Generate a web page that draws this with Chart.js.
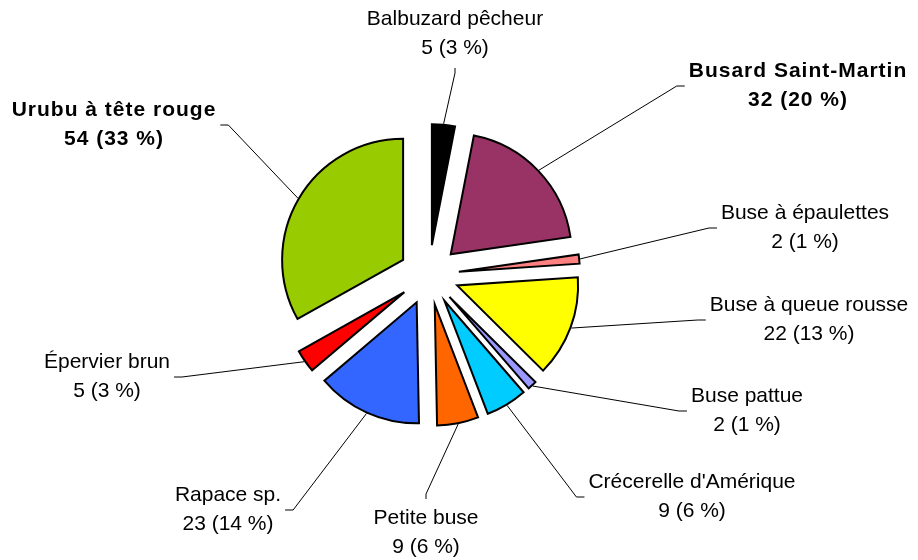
<!DOCTYPE html>
<html lang="fr">
<head>
<meta charset="utf-8">
<title>Rapaces observés</title>
<script src="https://cdn.jsdelivr.net/npm/chart.js@4.4.1/dist/chart.umd.min.js"></script>
<style>
  html, body { margin: 0; padding: 0; background: #fff; }
  #wrap { width: 918px; height: 560px; position: relative; }
</style>
</head>
<body>
<div id="wrap"><canvas id="raptorChart"></canvas></div>
<script>
const species = [
    "Balbuzard pêcheur", "Busard Saint-Martin", "Buse à épaulettes",
    "Buse à queue rousse", "Buse pattue", "Crécerelle d'Amérique",
    "Petite buse", "Rapace sp.", "Épervier brun", "Urubu à tête rouge"
];
const counts = [5, 32, 2, 22, 2, 9, 9, 23, 5, 54];
const boldLabels = ["Busard Saint-Martin", "Urubu à tête rouge"];

const sliceColors = ['#000000', '#993366', '#FF8080', '#FFFF00', '#9999FF',
                     '#00CCFF', '#FF6600', '#3366FF', '#FF0000', '#99CC00'];
// where each label block sits, relative to the pie centre (px)
const labelOffsets = [[26, -241], [369, -189], [376, -47], [380, 45], [318, 136],
                      [263, 222], [-3, 258], [-201, 235], [-322, 102], [-315, -150]];

const total = counts.reduce((a, b) => a + b, 0);
const pieRadius = 121;
const explode = 30; // px every slice is pulled out

// chart.js' own offset also trims thin slices, so pull each arc out by hand
const explodedSlices = {
    id: 'explodedSlices',
    beforeDatasetDraw(chart, args) {
        const ctx = chart.ctx;
        args.meta.data.forEach(arc => {
            const mid = (arc.startAngle + arc.endAngle) / 2;
            ctx.save();
            ctx.translate(Math.cos(mid) * explode, Math.sin(mid) * explode);
            arc.draw(ctx);
            ctx.restore();
        });
        return false;
    }
};

const leaderLabels = {
    id: 'leaderLabels',
    afterDatasetsDraw(chart) {
        const ctx = chart.ctx;
        const meta = chart.getDatasetMeta(0);
        ctx.save();
        meta.data.forEach((arc, i) => {
            const mid = (arc.startAngle + arc.endAngle) / 2;
            const r = explode + arc.outerRadius + arc.options.borderWidth / 2;
            const ax = arc.x + Math.cos(mid) * r;
            const ay = arc.y + Math.sin(mid) * r;

            const cx = arc.x + labelOffsets[i][0];
            const cy = arc.y + labelOffsets[i][1];
            const bold = boldLabels.includes(species[i]);
            ctx.font = (bold ? 'bold ' : '') + '21px "Liberation Sans", Arial, sans-serif';
            ctx.letterSpacing = bold ? '1px' : '0px';
            const lines = [species[i], counts[i] + ' (' + Math.round(counts[i] / total * 100) + ' %)'];
            const w = Math.max(...lines.map(t => ctx.measureText(t).width));

            let ex, ey, bx, by;
            if (Math.abs(labelOffsets[i][0]) < 60) {
                const s = cy > arc.y ? -1 : 1;
                ex = cx; ey = cy + s * 34;
                bx = cx; by = ey + s * 5;
            } else {
                const s = cx > arc.x ? -1 : 1;
                ex = cx + s * (w / 2 + 4); ey = cy;
                bx = ex + s * 8; by = cy;
            }
            ctx.beginPath();
            ctx.moveTo(ax, ay);
            ctx.lineTo(bx, by);
            ctx.lineTo(ex, ey);
            ctx.strokeStyle = '#000';
            ctx.lineWidth = 1;
            ctx.stroke();

            ctx.fillStyle = '#000';
            ctx.textAlign = 'center';
            ctx.textBaseline = 'middle';
            ctx.fillText(lines[0], cx, cy - 14.5);
            ctx.fillText(lines[1], cx, cy + 14.5);
        });
        ctx.restore();
    }
};

new Chart(document.getElementById('raptorChart'), {
    type: 'pie',
    data: {
        labels: species,
        datasets: [{
            data: counts,
            backgroundColor: sliceColors,
            borderColor: '#000000',
            borderWidth: 2,
            borderJoinStyle: 'miter'
        }]
    },
    options: {
        responsive: true,
        maintainAspectRatio: false,
        animation: false,
        events: [],
        radius: pieRadius,
        layout: { padding: { left: 0, right: 60, top: 0, bottom: 10 } },
        plugins: {
            legend: { display: false },
            tooltip: { enabled: false }
        }
    },
    plugins: [explodedSlices, leaderLabels]
});
</script>
</body>
</html>
